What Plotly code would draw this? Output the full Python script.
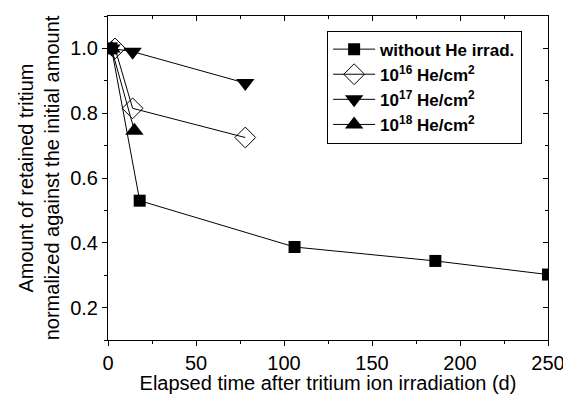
import plotly.graph_objects as go

# Data
t_none = [2, 18, 106, 186, 250]
r_none = [1.0, 0.53, 0.387, 0.344, 0.302]

t_16 = [4, 14, 78]
r_16 = [1.0, 0.815, 0.725]

t_17 = [2, 14, 78]
r_17 = [1.0, 0.99, 0.893]

t_18 = [2, 15]
r_18 = [1.0, 0.746]

names = ["<b>without He irrad.</b>",
         "<b>10<sup>16</sup> He/cm<sup>2</sup></b>",
         "<b>10<sup>17</sup> He/cm<sup>2</sup></b>",
         "<b>10<sup>18</sup> He/cm<sup>2</sup></b>"]

FONT = "Liberation Sans, Arial, sans-serif"

fig = go.Figure()
line = dict(color="black", width=1)
fig.add_trace(go.Scatter(x=t_none, y=r_none, mode="lines+markers", name=names[0],
                         line=line, marker=dict(symbol="square", size=12, color="black")))
fig.add_trace(go.Scatter(x=t_16, y=r_16, mode="lines+markers", name=names[1],
                         line=line, marker=dict(symbol="diamond-open", size=16, color="black",
                                                line=dict(width=1, color="black"))))
fig.add_trace(go.Scatter(x=t_17, y=r_17, mode="lines+markers", name=names[2],
                         line=line, marker=dict(symbol="triangle-down", size=16, color="black")))
fig.add_trace(go.Scatter(x=t_18, y=r_18, mode="lines+markers", name=names[3],
                         line=line, marker=dict(symbol="triangle-up", size=16, color="black")))
# empty trace to bring up the mirrored (inward-tick) axes
fig.add_trace(go.Scatter(x=[None], y=[None], xaxis="x2", yaxis="y2", showlegend=False,
                         hoverinfo="skip", mode="lines"))

xr = [0, 250]
yr = [0.1, 1.1]

# page body has an 8px margin, so the figure is drawn 8px in from the window corner
fig.update_layout(
    width=563, height=386,
    margin=dict(l=100, r=23, t=8, b=54, autoexpand=False),
    paper_bgcolor="white", plot_bgcolor="white",
    font=dict(family=FONT, size=20, color="black"),
    showlegend=True,
    legend=dict(x=0.498, y=0.955, xanchor="left", yanchor="top",
                bordercolor="black", borderwidth=1, bgcolor="white",
                font=dict(family=FONT, size=17, color="black"),
                itemwidth=42, tracegroupgap=0),
    xaxis=dict(range=xr, dtick=50, ticks="outside", ticklen=5, tickcolor="black",
               showline=True, linecolor="black", linewidth=1, showgrid=False, zeroline=False,
               minor=dict(dtick=25, ticks="outside", ticklen=3, tickcolor="black"),
               title=dict(text="Elapsed time after tritium ion irradiation (d)", standoff=0,
                          font=dict(size=20)),
               tickfont=dict(size=20)),
    yaxis=dict(range=yr, dtick=0.2, tick0=0, tickformat=".1f", ticks="outside", ticklen=5,
               tickcolor="black", showline=True, linecolor="black", linewidth=1,
               showgrid=False, zeroline=False,
               minor=dict(dtick=0.1, ticks="outside", ticklen=3, tickcolor="black"),
               title=dict(text="Amount of retained tritium<br>normalized against the initial amount",
                          standoff=5, font=dict(size=20)),
               tickfont=dict(size=20)),
    xaxis2=dict(range=xr, dtick=50, overlaying="x", side="top", ticks="inside", ticklen=5,
                tickcolor="black", showline=True, linecolor="black", linewidth=1,
                showticklabels=False, showgrid=False, zeroline=False,
                minor=dict(dtick=25, ticks="inside", ticklen=3, tickcolor="black")),
    yaxis2=dict(range=yr, dtick=0.2, tick0=0, overlaying="y", side="right", ticks="inside",
                ticklen=5, tickcolor="black", showline=True, linecolor="black", linewidth=1,
                showticklabels=False, showgrid=False, zeroline=False,
                minor=dict(dtick=0.1, ticks="inside", ticklen=3, tickcolor="black")),
)

fig.write_html("out.html")
